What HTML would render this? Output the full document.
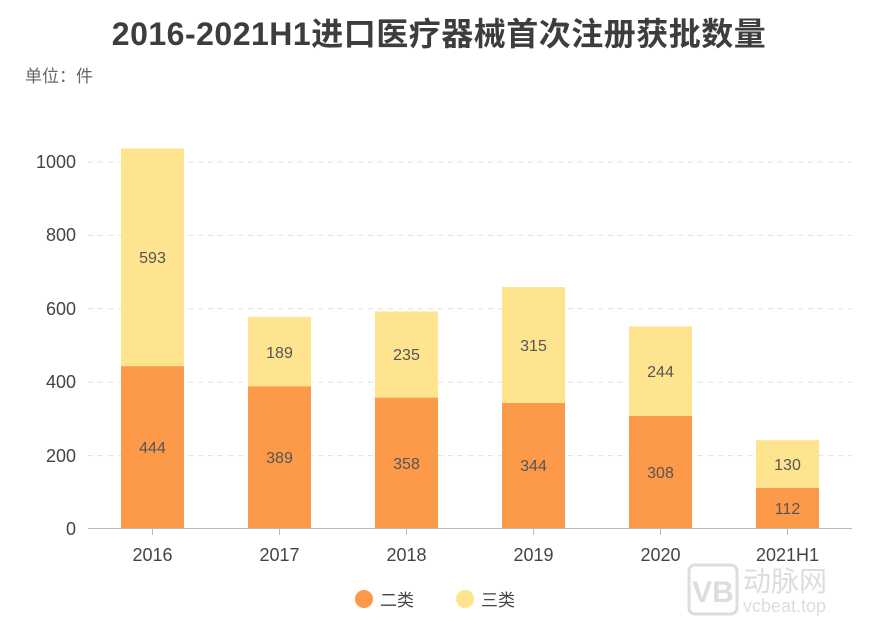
<!DOCTYPE html>
<html><head><meta charset="utf-8"><style>body{margin:0;background:#fff}svg{display:block}</style></head><body>
<svg width="871" height="627" xmlns="http://www.w3.org/2000/svg" font-family="'Liberation Sans','Noto Sans CJK SC',sans-serif">
<rect width="871" height="627" fill="#fff"/>
<text x="439" y="45" text-anchor="middle" font-size="32" font-weight="bold" fill="#3d3d3d" letter-spacing="0.5">2016-2021H1进口医疗器械首次注册获批数量</text>
<text x="25" y="82" font-size="17" fill="#666">单位：件</text>
<g stroke="#e0e0e0" stroke-dasharray="5,5" stroke-width="1">
<line x1="88" x2="852" y1="162" y2="162"/><line x1="88" x2="852" y1="235.4" y2="235.4"/><line x1="88" x2="852" y1="308.8" y2="308.8"/><line x1="88" x2="852" y1="382.2" y2="382.2"/><line x1="88" x2="852" y1="455.6" y2="455.6"/>
</g>
<g font-size="18" fill="#444" text-anchor="end">
<text x="76" y="168">1000</text><text x="76" y="241">800</text><text x="76" y="315">600</text><text x="76" y="388">400</text><text x="76" y="462">200</text><text x="76" y="535">0</text>
</g>
<g fill="#FD9A4A">
<rect x="121" y="366.1" width="63" height="162.9"/><rect x="248" y="386.2" width="63" height="142.8"/><rect x="375" y="397.6" width="63" height="131.4"/><rect x="502" y="402.8" width="63" height="126.2"/><rect x="629" y="416" width="63" height="113"/><rect x="756" y="487.9" width="63" height="41.1"/>
</g>
<g fill="#FEE48E">
<rect x="121" y="148.4" width="63" height="217.7"/><rect x="248" y="316.9" width="63" height="69.3"/><rect x="375" y="311.4" width="63" height="86.2"/><rect x="502" y="287.1" width="63" height="115.7"/><rect x="629" y="326.4" width="63" height="89.6"/><rect x="756" y="440.2" width="63" height="47.7"/>
</g>
<line x1="88" x2="852" y1="528.5" y2="528.5" stroke="#bbb"/>
<g stroke="#bbb"><line x1="152.5" x2="152.5" y1="529" y2="535"/><line x1="279.5" x2="279.5" y1="529" y2="535"/><line x1="406.5" x2="406.5" y1="529" y2="535"/><line x1="533.5" x2="533.5" y1="529" y2="535"/><line x1="660.5" x2="660.5" y1="529" y2="535"/><line x1="787.5" x2="787.5" y1="529" y2="535"/></g>
<g font-size="16" fill="#555" text-anchor="middle">
<text x="152.5" y="453">444</text><text x="152.5" y="263">593</text>
<text x="279.5" y="463">389</text><text x="279.5" y="358">189</text>
<text x="406.5" y="469">358</text><text x="406.5" y="360">235</text>
<text x="533.5" y="471">344</text><text x="533.5" y="351">315</text>
<text x="660.5" y="478">308</text><text x="660.5" y="377">244</text>
<text x="787.5" y="514">112</text><text x="787.5" y="470">130</text>
</g>
<g font-size="18" fill="#444" text-anchor="middle">
<text x="152.5" y="561">2016</text><text x="279.5" y="561">2017</text><text x="406.5" y="561">2018</text><text x="533.5" y="561">2019</text><text x="660.5" y="561">2020</text><text x="787.5" y="561">2021H1</text>
</g>
<circle cx="364" cy="599" r="9" fill="#FD9A4A"/><text x="380" y="606" font-size="17" fill="#444">二类</text>
<circle cx="465" cy="599" r="9" fill="#FEE48E"/><text x="481" y="606" font-size="17" fill="#444">三类</text>
<rect x="689" y="565" width="48" height="49" rx="6" fill="none" stroke="#ddd" stroke-width="3"/>
<text x="713" y="602" text-anchor="middle" font-size="30" font-weight="bold" fill="#ddd">VB</text>
<text x="743" y="591" font-size="28" fill="#ddd">动脉网</text>
<text x="743" y="612" font-size="18" fill="#ddd">vcbeat.top</text>
</svg>
</body></html>
